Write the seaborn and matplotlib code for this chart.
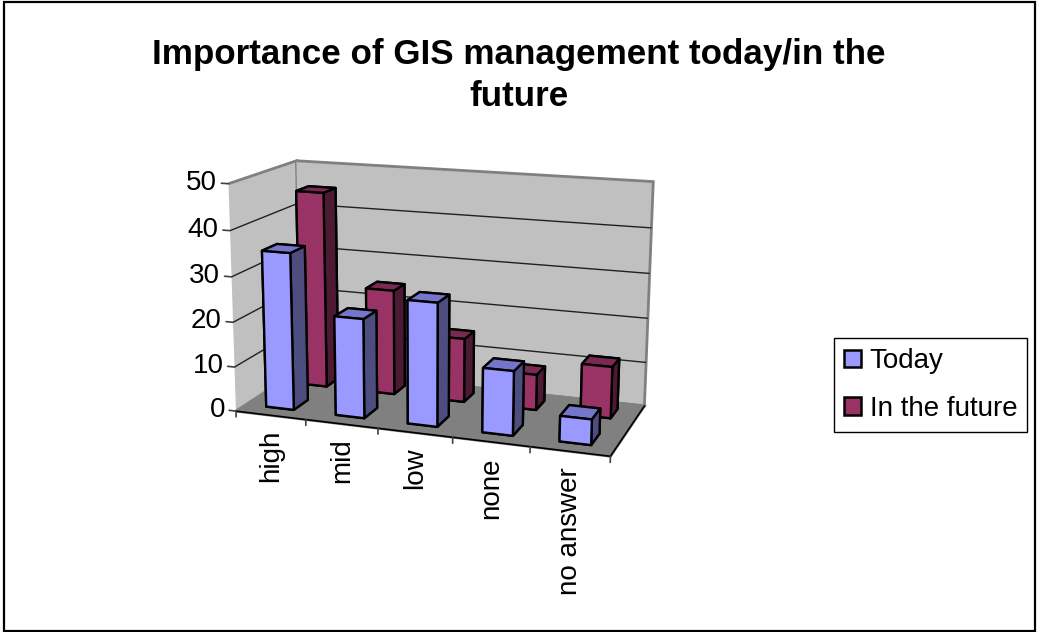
import matplotlib
matplotlib.use('Agg')
import matplotlib.pyplot as plt
from matplotlib.patches import Patch, Rectangle
from mpl_toolkits.mplot3d import proj3d
import seaborn as sns

categories = ['high', 'mid', 'low', 'none', 'no answer']
today = [35, 22, 27, 14, 5.5]
future = [45, 24, 14.5, 8, 11.5]
z_ticks = [0, 10, 20, 30, 40, 50]

# front, top, side colours of the bars
today_colors = ['#9999FF', '#7575CC', '#4D4D80']
future_colors = ['#993366', '#7A2952', '#4D1A33']

sns.set_theme(style='white', font='Liberation Sans')
plt.rcParams['text.color'] = 'black'

fig = plt.figure(figsize=(10.37, 6.32), dpi=100)
fig.add_artist(Rectangle((3.5 / 1037, 1.2 / 632), 1031.5 / 1037, 629 / 632, fill=False,
                         edgecolor='black', linewidth=1.6, transform=fig.transFigure))
ax = fig.add_axes([0.19668, 0.15211, 0.44706, 0.73355], projection='3d')
ax.patch.set_alpha(0)
ax.computed_zorder = False
ax.set_xlim(0, 5)
ax.set_ylim(0, 1)
ax.set_zlim(0, 50)
ax.view_init(elev=14.1123, azim=-70.8357, roll=-0.206)
ax.set_proj_type('persp', focal_length=0.5772)
ax.set_box_aspect((1.6594, 0.6739, 1))

ax.xaxis.set_pane_color('#C0C0C0')
ax.yaxis.set_pane_color('#C0C0C0')
ax.zaxis.set_pane_color('#808080')
for axis in (ax.xaxis, ax.yaxis, ax.zaxis):
    axis.pane.set_edgecolor('#808080')
    axis.pane.set_linewidth(2)

ax.set_xticks([])
ax.set_yticks([])
# the 0 and 50 lines are the pane edges, only the inner ones are gridlines
ax.set_zticks(z_ticks[1:-1])
ax.set_zticklabels([])
ax.grid(True)
ax.zaxis._axinfo['grid'].update(color='#202020', linewidth=1, linestyle='-')
ax.zaxis._axinfo['tick']['inward_factor'] = 0
ax.zaxis._axinfo['tick']['outward_factor'] = 0
ax.zaxis.line.set_color((0, 0, 0, 0))
ax.xaxis.line.set_color('black')
ax.xaxis.line.set_linewidth(1.2)
ax.yaxis.line.set_color('black')
ax.yaxis.line.set_linewidth(1.2)


def draw_bars(values, y0, depth, colors, start_z):
    front, top, side = colors
    for i, val in enumerate(values):
        ax.bar3d(i + 0.29, y0, 0, 0.4, depth, val, shade=False,
                 color=[front, top, front, front, side, side],
                 edgecolor='black', linewidth=1.7, zorder=start_z + i)


def label(x, y, z, s, **kwargs):
    u, v, _ = proj3d.proj_transform(x, y, z, ax.get_proj())
    ax.text2D(u, v, s, transform=ax.transData, fontsize=20, zorder=31, **kwargs)


draw_bars(future, 0.68, 0.2, future_colors, 10)
draw_bars(today, 0.15, 0.22, today_colors, 20)

# axis ticks and labels
for z in z_ticks:
    ax.plot([0, -0.1], [0, 0], [z, z], color='#404040', lw=1.2, zorder=30)
    label(-0.16, 0, z, str(z), ha='right', va='center')
for i in range(len(categories) + 1):
    ax.plot([i, i], [0, 0], [0, -1.3], color='#404040', lw=1.2, zorder=30)
for i, cat in enumerate(categories):
    label(i + 0.5, 0, -3.3, cat, rotation=90, ha='center', va='top')

fig.text(519 / 1037, 1 - 38 / 632, 'Importance of GIS management today/in the\nfuture',
         ha='center', va='top', fontsize=25.2, fontweight='bold', linespacing=1.33)

handles = [Patch(facecolor=today_colors[0], edgecolor='black', linewidth=1.8, label='Today'),
           Patch(facecolor=future_colors[0], edgecolor='black', linewidth=1.8, label='In the future')]
fig.legend(handles=handles, loc='center left', bbox_to_anchor=(834 / 1037, 1 - 385 / 632),
           fontsize=20, frameon=True, fancybox=False, edgecolor='black', framealpha=1,
           handlelength=0.6, handleheight=0.6, handletextpad=0.33, borderpad=0.36,
           labelspacing=0.78, borderaxespad=0)

fig.savefig('out.png', dpi=100)
